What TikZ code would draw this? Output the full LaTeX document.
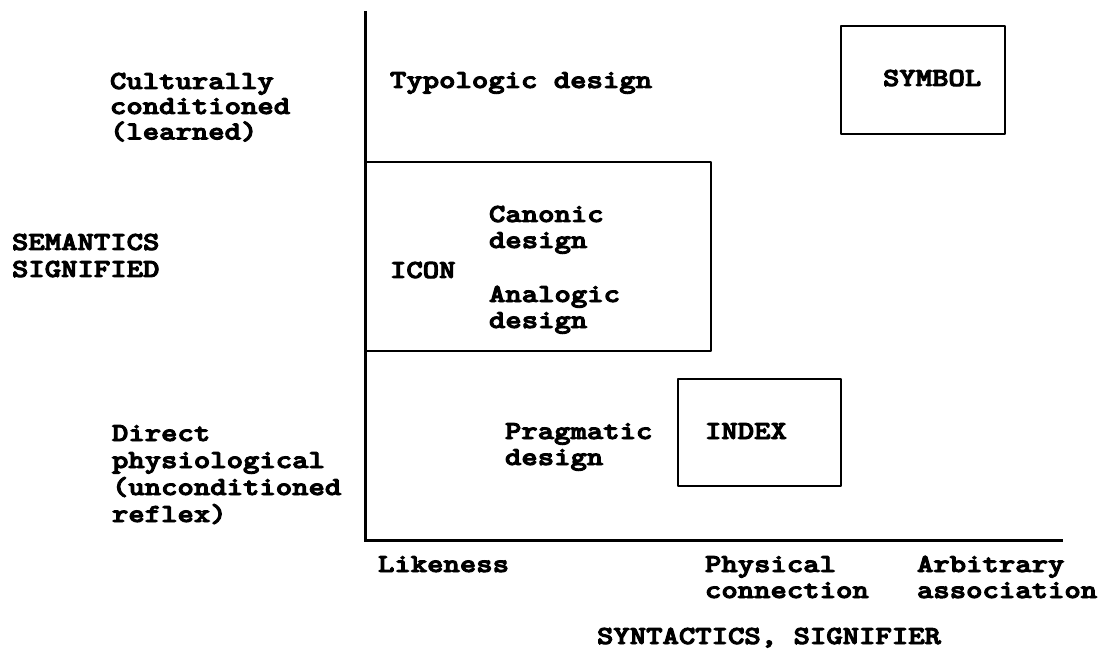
\documentclass[tikz,border=0pt]{standalone}
\usepackage{fontspec}
\newfontfamily\twfont[FakeBold=3.5]{lmmonolt10-bold.otf}
\newcommand{\mylines}[1]{\scalebox{1.2}[1]{\begin{tabular}[t]{@{}l@{}}#1\end{tabular}}}
\tikzset{
  tw/.style={font=\twfont\fontsize{26}{26}\selectfont, anchor=base west, inner sep=0pt, outer sep=0pt},
  axisline/.style={line width=3pt, black},
  boxline/.style={line width=2.8pt, black, line join=round},
}
\begin{document}
\begin{tikzpicture}[x=1pt,y=-1pt]
\useasboundingbox[fill=white] (0,0) rectangle (1103,660);
% axes
\coordinate (ytop) at (365,11);
\coordinate (orig) at (365,540);
\coordinate (xend) at (1063,540);
\draw[axisline] (ytop) -- (orig) -- (xend);
% boxes
\draw[boxline] (365,162) rectangle (711,351);
\draw[boxline] (841,26) rectangle (1005,134);
\draw[boxline] (678,379) rectangle (841,486);
% left labels
\node[tw] (cult) at (110,89) {\fontsize{26}{25}\selectfont\mylines{Culturally\\conditioned\\(learned)}};
\node[tw] (sem) at (12,250) {\fontsize{26}{27}\selectfont\mylines{SEMANTICS\\SIGNIFIED}};
\node[tw] (direct) at (112,441) {\fontsize{26}{27}\selectfont\mylines{Direct\\physiological\\(unconditioned\\reflex)}};
% inner labels
\node[tw] (typo) at (390,88) {\mylines{Typologic design}};
\node[tw] (symbol) at (883,86) {\mylines{SYMBOL}};
\node[tw] (icon) at (390,278) {\mylines{ICON}};
\node[tw] (canon) at (489,222) {\mylines{Canonic\\design}};
\node[tw] (analog) at (489,302) {\mylines{Analogic\\design}};
\node[tw] (prag) at (505,439) {\mylines{Pragmatic\\design}};
\node[tw] (index) at (705,439) {\mylines{INDEX}};
% bottom labels
\node[tw] (like) at (378,572) {\mylines{Likeness}};
\node[tw] (phys) at (705,572) {\mylines{Physical\\connection}};
\node[tw] (arb) at (917,572) {\mylines{Arbitrary\\association}};
\node[tw] (synt) at (597,644) {\mylines{SYNTACTICS, SIGNIFIER}};
\end{tikzpicture}
\end{document}
